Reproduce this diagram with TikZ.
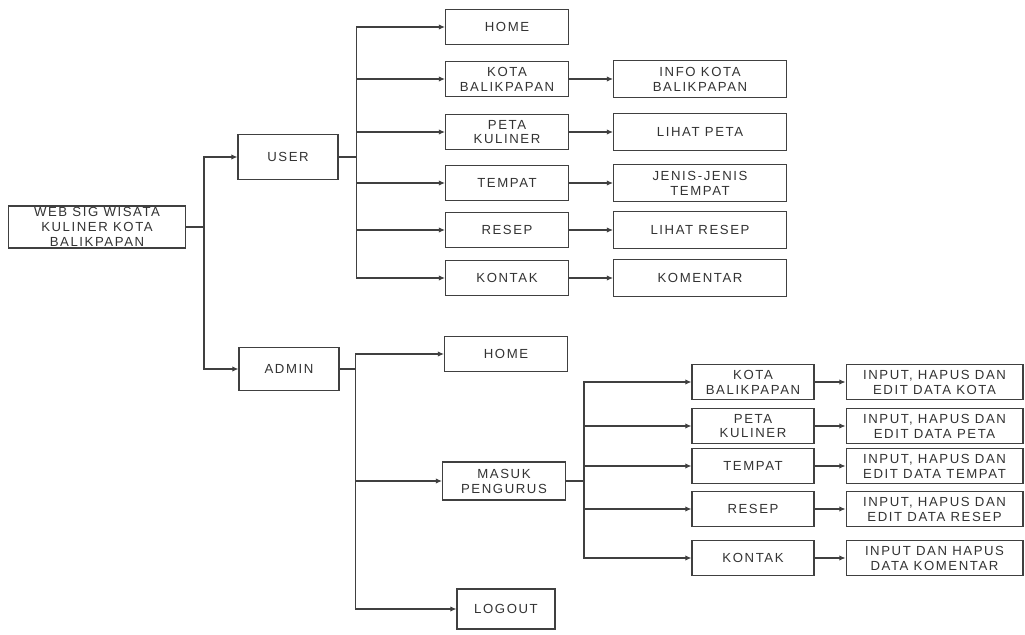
\documentclass[tikz,border=0pt]{standalone}
\usepackage{fontspec}
\setmainfont{Liberation Sans}[LetterSpace=12]
\usetikzlibrary{arrows.meta,positioning}

\begin{document}
\begin{tikzpicture}[
    x=0.02cm, y=-0.02cm,
    box/.style={rectangle, draw=black!75, line width=0.6pt, align=center, inner sep=1pt,
      font=\fontsize{7.5}{8.5}\selectfont, text=black!80, minimum height=0.7cm},
    menu/.style={box, minimum width=2.46cm},
    sub/.style={box, minimum width=3.46cm, minimum height=0.74cm},
    opt/.style={box, minimum width=2.44cm},
    task/.style={box, minimum width=3.54cm},
    arrow/.style={-{Latex[length=3.5pt,width=3pt]}, draw=black!75, line width=0.6pt}
  ]
    \fill[white] (0,0) rectangle (1025,635);
    \useasboundingbox (0,0) rectangle (1025,635);

    \node[box, minimum width=3.54cm, minimum height=0.84cm, inner sep=0pt] (root) at (97,227) {WEB SIG WISATA\\KULINER KOTA\\BALIKPAPAN};
    \node[box, minimum width=2cm, minimum height=0.9cm] (user) at (288,157) {USER};
    \node[box, minimum width=2cm, minimum height=0.86cm] (admin) at (289,369) {ADMIN};

    \node[menu] (uhome) at (507,27) {HOME};
    \node[menu] (ukota) at (507,79) {KOTA\\BALIKPAPAN};
    \node[menu] (upeta) at (507,132) {PETA\\KULINER};
    \node[menu] (utempat) at (507,183) {TEMPAT};
    \node[menu] (uresep) at (507,230) {RESEP};
    \node[menu] (ukontak) at (507,278) {KONTAK};

    \node[sub, right=0.88cm of ukota] (uinfo) {INFO KOTA\\BALIKPAPAN};
    \node[sub, right=0.88cm of upeta] (ulihatpeta) {LIHAT PETA};
    \node[sub, right=0.88cm of utempat] (ujenis) {JENIS-JENIS\\TEMPAT};
    \node[sub, right=0.88cm of uresep] (ulihatresep) {LIHAT RESEP};
    \node[sub, right=0.88cm of ukontak] (ukomentar) {KOMENTAR};

    \node[menu] (ahome) at (506,354) {HOME};
    \node[menu, minimum height=0.76cm] (amasuk) at (504,481) {MASUK\\PENGURUS};
    \node[box, minimum width=1.96cm, minimum height=0.8cm] (alogout) at (506,609) {LOGOUT};

    \node[opt] (akota) at (753,382) {KOTA\\BALIKPAPAN};
    \node[opt] (apeta) at (753,426) {PETA\\KULINER};
    \node[opt] (atempat) at (753,466) {TEMPAT};
    \node[opt] (aresep) at (753,509) {RESEP};
    \node[opt] (akontak) at (753,558) {KONTAK};

    \node[task, right=0.62cm of akota] (akotadata) {INPUT, HAPUS DAN\\EDIT DATA KOTA};
    \node[task, right=0.62cm of apeta] (apetadata) {INPUT, HAPUS DAN\\EDIT DATA PETA};
    \node[task, right=0.62cm of atempat] (atempatdata) {INPUT, HAPUS DAN\\EDIT DATA TEMPAT};
    \node[task, right=0.62cm of aresep] (aresepdata) {INPUT, HAPUS DAN\\EDIT DATA RESEP};
    \node[task, right=0.62cm of akontak] (akontakdata) {INPUT DAN HAPUS\\DATA KOMENTAR};

    \draw[arrow] (root.east) -- ++(18,0) |- (user);
    \draw[arrow] (root.east) -- ++(18,0) |- (admin);
    \foreach \n in {uhome,ukota,upeta,utempat,uresep,ukontak}
      \draw[arrow] (user.east) -- ++(18,0) |- (\n);
    \foreach \a/\b in {ukota/uinfo,upeta/ulihatpeta,utempat/ujenis,uresep/ulihatresep,ukontak/ukomentar}
      \draw[arrow] (\a) -- (\b);
    \foreach \n in {ahome,amasuk,alogout}
      \draw[arrow] (admin.east) -- ++(16,0) |- (\n);
    \foreach \n in {akota,apeta,atempat,aresep,akontak}
      \draw[arrow] (amasuk.east) -- ++(18,0) |- (\n);
    \foreach \a/\b in {akota/akotadata,apeta/apetadata,atempat/atempatdata,aresep/aresepdata,akontak/akontakdata}
      \draw[arrow] (\a) -- (\b);
  \end{tikzpicture}
\end{document}
